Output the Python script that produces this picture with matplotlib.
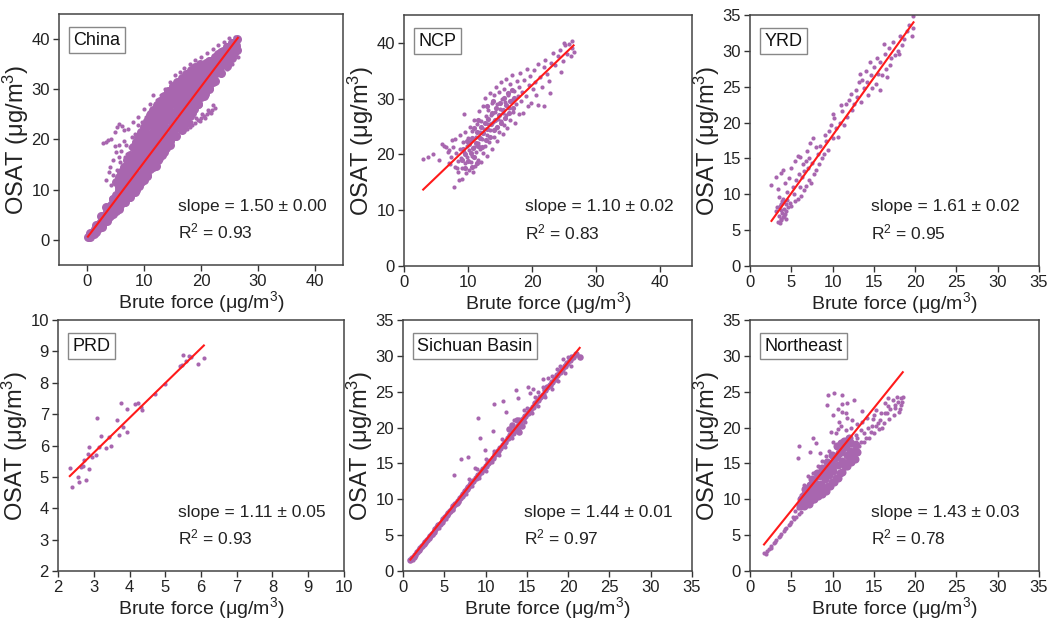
import matplotlib
matplotlib.use("Agg")
import matplotlib.pyplot as plt
import numpy as np

plt.rcParams['font.family'] = ['Liberation Sans', 'DejaVu Sans']
plt.rcParams['mathtext.fontset'] = 'custom'
plt.rcParams['mathtext.rm'] = 'Liberation Sans'
plt.rcParams['mathtext.it'] = 'Liberation Sans'

# ---- data (Brute force, OSAT) ----
china_core = [(0.1, 0.5), (0.4, 0.9), (0.7, 1.2), (1.0, 1.6), (1.3, 2.1), (1.6, 2.4), (1.9, 3.0), (2.2, 3.3),
              (2.5, 3.8), (2.8, 4.4), (1.2, 1.2), (2.0, 2.3), (2.6, 3.0), (3.0, 3.5), (3.1, 5.0), (3.4, 5.6),
              (3.6, 4.3), (3.9, 6.2), (2.4, 4.8), (3.3, 6.6), (4.0, 4.8), (4.2, 7.0), (4.4, 5.9), (4.6, 8.2),
              (4.8, 6.7), (5.0, 9.0), (5.1, 5.8), (5.3, 7.8), (5.5, 10.0), (5.7, 6.9), (5.9, 9.1), (6.0, 11.2),
              (6.2, 8.0), (6.4, 12.3), (6.5, 10.3), (6.7, 7.6), (6.9, 13.0), (7.0, 9.2), (7.1, 11.4), (7.3, 14.2),
              (7.4, 8.6), (7.6, 12.5), (7.8, 15.8), (7.9, 10.1), (8.1, 17.0), (8.2, 13.5), (8.4, 9.6), (8.5, 11.6),
              (8.7, 18.3), (8.8, 14.8), (8.9, 16.3), (9.1, 10.8), (9.2, 19.4), (9.3, 12.7), (9.5, 17.6), (9.6, 15.2),
              (9.8, 20.6), (9.9, 11.9), (10.0, 13.9), (10.1, 21.6), (10.2, 16.5), (10.3, 18.9), (10.5, 12.8),
              (10.6, 22.8), (10.7, 15.0), (10.9, 20.2), (11.0, 17.4), (11.1, 14.1), (11.3, 23.6), (11.4, 19.1),
              (11.5, 21.5), (11.7, 15.6), (11.8, 24.6), (11.9, 17.2), (12.0, 22.8), (12.1, 14.8), (12.3, 20.0),
              (12.4, 25.6), (12.5, 18.4), (12.6, 16.3), (12.8, 23.8), (12.9, 21.5), (13.0, 26.4), (13.1, 17.0),
              (13.3, 19.3), (13.4, 25.0), (13.5, 22.6), (13.7, 27.4), (13.8, 18.4), (13.9, 20.7), (14.1, 24.0),
              (14.2, 28.3), (14.3, 26.1), (14.5, 19.6), (14.6, 22.2), (14.8, 29.0), (14.9, 25.1), (15.0, 21.0),
              (15.1, 27.3), (15.3, 23.6), (15.4, 30.0), (15.6, 20.6), (15.7, 28.5), (15.8, 25.8), (16.0, 22.4),
              (16.1, 31.0), (16.2, 26.9), (16.4, 24.0), (16.5, 29.6), (16.7, 21.8), (16.8, 31.6), (16.9, 27.8),
              (17.1, 25.1), (17.2, 23.2), (17.4, 30.3), (17.5, 32.2), (17.6, 28.6), (17.8, 26.4), (18.0, 24.6),
              (18.2, 31.2), (18.3, 33.0), (18.4, 29.4), (18.6, 27.3), (18.8, 26.0), (18.9, 33.5), (19.0, 30.6),
              (19.2, 28.4), (19.4, 27.0), (19.5, 32.4), (19.7, 34.2), (19.8, 29.6), (20.0, 28.5), (20.2, 31.5),
              (20.3, 34.6), (20.5, 33.0), (20.7, 29.0), (20.9, 35.2), (21.0, 31.0), (21.2, 33.8), (21.4, 30.2),
              (21.6, 35.6), (21.8, 32.5), (22.0, 34.4), (22.2, 31.4), (22.4, 36.0), (22.6, 33.2), (22.8, 35.0),
              (23.0, 37.0), (23.2, 34.1), (23.5, 36.0), (23.8, 37.6), (24.0, 35.0), (24.3, 36.8), (24.6, 38.4),
              (24.9, 36.0), (25.2, 37.6), (25.5, 39.2), (25.8, 37.2), (26.1, 38.6), (26.3, 40.0), (26.4, 37.8),
              (5.0, 11.5), (5.5, 12.5), (6.0, 13.5), (6.5, 14.5), (7.0, 16.0), (7.5, 17.0), (8.0, 18.5),
              (8.5, 19.5), (9.0, 20.5), (9.5, 21.5), (10.0, 22.5), (10.5, 23.6), (11.0, 24.8), (11.6, 25.8),
              (12.2, 26.8), (12.8, 27.6), (13.5, 28.6), (14.2, 29.6), (15.0, 30.6), (15.8, 31.4), (16.6, 32.2),
              (17.4, 33.0), (18.2, 33.8), (19.0, 34.5), (19.8, 35.0)]
# dense part of the China cloud, one column of readings per x
china_fill_x = [0.5, 1.5, 2.5, 3.5, 4.5, 5.5, 6.5, 7.5, 8.5, 9.5, 10.5, 11.5, 12.5,
                13.5, 14.5, 15.5, 16.5, 17.5, 18.5, 19.5, 20.5, 21.5, 22.5, 23.5, 24.5, 25.5]
china_fill_y = [[0.6, 1.4], [1.6, 2.9], [2.6, 3.9, 4.6], [3.7, 5.0, 6.4], [5.1, 6.6, 8.2],
                [6.2, 7.8, 9.4, 10.6], [7.6, 9.2, 10.8, 12.4], [8.6, 10.2, 11.8, 13.4, 15.0],
                [10.0, 11.6, 13.2, 14.8, 16.4, 18.0], [11.6, 13.2, 14.8, 16.4, 18.0, 19.8],
                [13.0, 14.6, 16.2, 17.8, 19.4, 21.0, 22.6], [14.6, 16.2, 17.8, 19.4, 21.0, 22.8, 24.4],
                [16.0, 17.6, 19.2, 20.8, 22.4, 24.2, 26.0], [17.6, 19.2, 20.8, 22.4, 24.0, 25.8, 27.4],
                [19.0, 20.6, 22.2, 23.8, 25.4, 27.2, 28.8], [20.6, 22.2, 23.8, 25.4, 27.0, 28.6, 30.0],
                [22.0, 23.6, 25.2, 26.8, 28.4, 30.0, 31.0], [23.2, 24.8, 26.4, 28.0, 29.6, 31.2, 32.0],
                [25.2, 26.8, 28.4, 30.0, 31.6, 33.0], [27.0, 28.6, 30.2, 31.8, 33.6],
                [28.6, 30.2, 31.8, 33.4, 34.8], [30.0, 31.6, 33.2, 34.8, 35.6],
                [31.6, 33.2, 34.8, 36.4], [33.2, 34.8, 36.4, 37.4], [34.6, 36.2, 37.8, 38.4],
                [36.2, 37.8, 39.2]]
china_pts = [(2.7, 19.3), (3.2, 19.5), (3.7, 19.8), (4.2, 20.0), (4.8, 21.5), (5.2, 22.4), (5.6, 23.0),
             (6.1, 22.6), (6.5, 21.8), (5.0, 17.5), (4.5, 16.0), (3.8, 13.5), (3.3, 12.0), (4.1, 11.0),
             (5.8, 15.5), (6.8, 19.0), (7.2, 22.0), (8.0, 23.5), (9.0, 24.5), (10.0, 26.0), (11.0, 27.0),
             (11.5, 28.8), (12.3, 27.8), (13.0, 28.8), (13.6, 30.0), (14.5, 31.5), (15.5, 32.8), (16.3, 33.5),
             (17.0, 34.3), (18.0, 35.0), (19.0, 35.8), (20.0, 36.5), (21.0, 37.2), (22.2, 38.0), (23.0, 38.8),
             (24.0, 39.5), (25.0, 40.2), (26.0, 40.5), (26.5, 39.0), (26.5, 36.5), (25.5, 35.0), (24.5, 34.0),
             (23.5, 32.8), (22.5, 26.3), (22.0, 25.8), (21.5, 25.5), (21.0, 25.0), (20.5, 24.6), (20.0, 24.3),
             (19.5, 23.8), (19.0, 23.2), (18.5, 22.8), (18.0, 22.5), (17.5, 22.0), (18.2, 23.4), (19.2, 24.2),
             (20.2, 25.0), (21.2, 25.8), (22.2, 26.8), (20.8, 24.2), (19.8, 23.6), (21.8, 25.2),
             (4.0, 14.5), (4.6, 13.0), (5.3, 14.0), (5.6, 16.5), (6.2, 15.0), (6.0, 17.8), (6.6, 16.5),
             (7.0, 17.2), (7.5, 18.5), (7.8, 20.5), (8.4, 21.0), (8.2, 19.5), (6.5, 19.6), (5.5, 19.0),
             (4.8, 18.8), (9.0, 22.8), (9.6, 23.5), (10.4, 24.5), (10.8, 25.5), (12.0, 27.2), (12.8, 28.0)]

ncp_core = [(9.0, 19.0), (9.2, 21.0), (9.5, 20.0), (9.8, 22.4), (10.0, 18.8), (10.2, 21.8), (10.4, 20.2),
            (10.6, 23.0), (10.8, 21.2), (11.0, 19.6), (11.2, 22.0), (11.4, 24.0), (11.6, 21.6), (11.8, 23.0),
            (12.0, 25.0), (12.2, 21.4), (12.4, 23.8), (12.6, 25.6), (12.8, 22.6), (13.0, 24.6), (13.2, 26.4),
            (13.4, 23.2), (13.6, 25.4), (13.8, 27.4), (14.0, 24.4), (14.2, 26.2), (14.4, 28.4), (14.6, 25.0),
            (14.8, 27.0), (15.0, 29.2), (15.2, 25.6), (15.4, 28.0), (15.6, 30.2), (15.8, 26.6), (16.0, 28.8),
            (16.2, 31.0), (16.4, 27.4), (16.6, 29.6), (16.8, 31.6), (17.0, 28.4), (17.2, 30.2), (10.9, 24.8),
            (11.5, 26.2), (12.9, 28.6), (13.9, 29.6), (9.6, 17.6), (10.6, 17.8), (11.4, 18.4)]
ncp_pts = [(3.0, 19.2), (3.8, 19.6), (4.6, 20.0), (5.5, 19.0), (6.0, 21.8), (6.5, 21.3), (7.0, 20.8), (7.5, 22.6),
           (7.2, 18.2), (7.8, 14.2), (8.3, 17.5), (8.6, 15.5), (6.2, 21.6), (6.8, 20.5), (7.0, 18.5), (7.3, 19.6),
           (7.6, 21.4), (7.9, 17.8), (8.0, 22.8), (8.2, 20.2), (8.4, 18.8), (8.5, 16.8), (8.7, 21.0), (8.8, 23.4),
           (8.9, 19.4), (9.0, 15.6), (9.1, 17.6), (9.2, 22.2), (9.3, 27.3), (9.4, 20.4), (9.5, 18.4), (9.6, 24.0),
           (9.7, 16.6), (9.8, 21.6), (9.9, 19.6), (10.0, 23.0), (10.1, 17.2), (10.2, 20.8), (10.3, 25.0),
           (10.4, 18.6), (10.5, 22.4), (10.6, 19.8), (10.7, 24.2), (10.8, 16.9), (10.9, 21.4), (11.0, 26.2),
           (11.1, 18.0), (11.2, 23.2), (11.3, 20.4), (11.4, 25.4), (11.5, 22.0), (11.6, 19.0), (11.7, 27.8),
           (11.8, 24.0), (11.9, 21.0), (12.0, 18.6), (12.1, 26.0), (12.2, 22.8), (12.3, 20.2), (12.4, 28.6),
           (12.5, 24.6), (12.6, 21.6), (12.7, 30.2), (12.8, 26.8), (12.9, 23.4), (13.0, 19.8), (13.1, 25.4),
           (13.2, 28.0), (13.3, 22.2), (13.4, 31.0), (13.5, 24.4), (13.6, 27.0), (13.7, 21.0), (13.8, 29.2),
           (13.9, 25.8), (14.0, 23.2), (14.1, 30.6), (14.2, 27.6), (14.3, 24.8), (14.4, 32.0), (14.5, 22.4),
           (14.6, 29.0), (14.7, 26.4), (14.8, 31.2), (14.9, 24.0), (15.0, 28.2), (15.1, 33.0), (15.2, 26.0),
           (15.3, 30.0), (15.4, 23.6), (15.5, 27.4), (15.6, 31.8), (15.7, 25.2), (15.8, 29.4), (15.9, 33.6),
           (16.0, 27.0), (16.1, 24.8), (16.2, 30.6), (16.4, 28.4), (16.5, 32.6), (16.6, 26.2), (16.8, 29.8),
           (16.9, 34.2), (17.0, 27.6), (17.2, 31.4), (17.3, 25.6), (17.5, 29.0), (17.6, 33.2), (17.8, 30.4),
           (17.9, 27.2), (18.0, 32.0), (18.2, 34.6), (18.3, 29.6), (18.5, 31.2), (18.6, 27.4), (18.8, 33.4),
           (19.0, 30.4), (19.2, 35.4), (19.3, 28.6), (19.5, 32.4), (19.7, 34.0), (19.9, 29.2), (20.1, 31.8),
           (20.3, 35.2), (20.5, 33.0), (20.7, 30.6), (20.9, 36.2), (21.0, 28.8), (21.3, 33.8), (21.6, 32.0),
           (21.8, 35.6), (22.1, 37.0), (22.4, 34.4), (22.7, 33.2), (23.0, 36.4), (23.3, 38.2), (23.6, 36.0),
           (24.0, 37.6), (24.3, 38.8), (24.5, 34.8), (24.8, 36.8), (25.2, 39.6), (25.5, 38.0), (25.8, 39.8),
           (26.1, 37.6), (26.3, 40.4), (26.5, 38.4), (26.2, 39.0), (25.0, 40.0), (22.8, 31.0), (21.9, 28.6)]

yrd_pts = [(3.4, 6.2), (3.6, 6.0), (3.8, 6.4), (4.0, 6.8), (3.5, 7.0), (3.9, 7.4), (4.2, 7.2), (3.7, 7.8),
           (4.1, 8.0), (4.4, 7.6), (3.6, 8.4), (4.3, 8.6), (3.9, 9.0), (4.6, 8.2), (4.0, 9.4), (4.5, 9.2),
           (3.3, 8.2), (3.5, 9.6), (3.2, 7.6), (4.8, 8.8), (3.7, 6.6), (4.1, 7.0), (3.8, 8.7), (4.3, 6.5),
           (2.6, 11.3), (3.1, 12.4), (3.4, 10.8), (3.7, 12.9), (4.2, 11.6), (4.5, 10.3), (4.0, 13.4), (4.7, 12.2),
           (5.0, 13.6), (5.2, 11.0), (5.5, 14.6), (5.8, 15.4), (6.1, 15.2), (6.4, 14.2), (5.9, 12.8), (6.6, 13.2),
           (6.9, 16.0), (7.3, 17.2), (7.6, 17.8), (7.2, 15.0), (6.8, 14.6), (8.0, 16.6), (5.0, 8.4), (5.4, 9.0),
           (5.8, 9.4), (6.2, 9.8), (6.5, 10.6), (6.8, 11.2), (7.1, 12.0), (7.4, 11.6), (7.7, 12.8), (8.0, 13.4),
           (8.4, 14.2), (8.7, 15.0), (9.0, 15.6), (6.0, 11.0), (7.0, 13.6), (8.2, 15.6), (9.2, 17.4), (9.4, 16.2),
           (9.6, 18.8), (9.8, 19.6), (10.0, 17.8), (10.2, 20.6), (10.4, 19.2), (10.6, 18.0), (10.9, 20.0),
           (11.2, 21.6), (11.4, 19.6), (11.6, 22.6), (11.8, 20.8), (12.0, 23.2), (12.3, 21.8), (12.6, 22.6),
           (12.8, 24.6), (13.0, 23.6), (13.2, 25.6), (13.4, 22.8), (13.6, 26.0), (13.8, 24.8), (14.0, 27.2),
           (14.2, 25.6), (14.3, 23.8), (14.6, 26.6), (14.8, 24.8), (15.0, 27.8), (15.2, 25.4), (15.5, 26.8),
           (15.8, 28.4), (16.0, 26.6), (16.3, 29.6), (16.5, 27.4), (16.8, 30.4), (17.0, 28.0), (17.3, 31.2),
           (17.6, 29.4), (17.9, 30.0), (18.2, 32.0), (18.6, 31.6), (19.0, 32.8), (19.3, 33.6), (19.6, 32.0),
           (19.7, 34.8), (19.8, 33.2), (16.2, 31.0), (18.0, 29.6), (16.6, 26.4), (15.8, 24.6),
           (5.3, 10.0), (5.6, 12.0), (6.3, 12.4), (7.5, 14.4), (8.5, 16.8), (9.1, 18.2), (10.1, 21.2),
           (11.0, 22.4), (12.2, 24.0), (13.3, 26.8), (14.5, 28.4), (15.4, 29.0), (17.1, 29.0), (18.4, 30.8)]

prd_pts = [(2.33, 5.28), (2.40, 4.68), (2.57, 5.0), (2.60, 4.85), (2.63, 5.3), (2.77, 4.9), (2.74, 5.55),
           (2.86, 5.25), (2.83, 5.72), (2.86, 5.95), (2.95, 5.65), (3.10, 6.88), (3.19, 6.3), (3.16, 5.95),
           (3.33, 5.92), (3.44, 6.28), (3.49, 6.0), (3.65, 6.8), (3.70, 6.33), (3.76, 7.36), (3.81, 6.6),
           (3.93, 7.15), (3.93, 6.42), (4.16, 7.32), (4.25, 7.35), (4.32, 7.22), (4.36, 7.13), (4.72, 7.64),
           (5.0, 7.95), (5.46, 8.58), (5.50, 8.9), (5.66, 8.85), (5.71, 8.82), (5.92, 8.6), (6.08, 8.78),
           (5.40, 8.55), (5.58, 8.7), (2.69, 5.35), (3.05, 5.7)]

sichuan_core = [(0.9, 1.5), (1.1, 1.8), (1.3, 2.0), (1.5, 2.3), (1.7, 2.6), (1.9, 2.9), (2.1, 3.2), (2.3, 3.5),
                (2.5, 3.8), (2.7, 4.1), (2.9, 4.3), (3.1, 4.6), (3.3, 4.9), (3.5, 5.2), (3.7, 5.5), (3.9, 5.8),
                (4.1, 6.1), (4.3, 6.4), (4.5, 6.6), (4.7, 6.9), (4.9, 7.2), (5.1, 7.5), (5.3, 7.8), (5.5, 8.1),
                (5.7, 8.4), (5.9, 8.7), (6.1, 9.0), (6.3, 9.3), (6.5, 9.5), (6.7, 9.8), (6.9, 10.2), (7.1, 10.5),
                (7.3, 10.8), (7.5, 11.1), (7.7, 11.4), (7.9, 11.7), (8.1, 12.0), (8.3, 12.3), (8.5, 12.6),
                (8.8, 13.0), (9.1, 13.4), (9.4, 13.8), (9.7, 14.2), (10.0, 14.6), (10.3, 15.0), (10.6, 15.4),
                (10.9, 15.8), (11.2, 16.3), (11.5, 16.8), (11.8, 17.2), (12.1, 17.6), (12.4, 18.0), (12.7, 18.5),
                (13.0, 18.9), (13.3, 19.3), (13.6, 19.7), (13.9, 20.2), (14.2, 20.6), (14.5, 21.2), (14.8, 21.6),
                (15.1, 22.0), (15.4, 22.5), (15.7, 22.9), (16.0, 23.4), (16.3, 23.8), (16.6, 24.2), (16.9, 24.6),
                (17.2, 25.2), (17.5, 25.6), (17.8, 26.0), (18.1, 26.4), (18.4, 26.8), (18.7, 27.4), (19.0, 27.8),
                (19.3, 28.2), (19.6, 28.6), (19.9, 29.0), (20.2, 29.4), (20.6, 29.8), (21.0, 30.2), (21.4, 29.8),
                (13.2, 20.4), (13.8, 21.0), (14.4, 20.2), (12.9, 19.8), (14.0, 19.4)]
sichuan_pts = [(1.2, 1.5), (2.0, 2.8), (2.8, 3.9), (3.6, 5.0), (4.4, 6.0), (5.2, 7.2), (6.0, 8.5), (6.8, 9.6),
               (7.6, 10.8), (8.4, 11.9), (9.2, 13.0), (10.0, 14.0), (10.8, 15.2), (11.6, 16.2), (12.4, 17.3),
               (13.2, 18.5), (14.0, 19.6), (14.8, 20.8), (15.6, 22.0), (16.4, 23.0), (17.2, 24.2), (18.0, 25.4),
               (18.8, 26.5), (19.6, 27.6), (20.4, 28.6), (8.0, 12.8), (9.0, 14.2), (10.0, 15.6), (11.0, 16.8),
               (12.0, 18.4), (13.0, 19.8), (14.0, 21.2), (15.0, 22.8), (16.0, 24.2), (17.0, 25.6), (18.0, 27.2),
               (19.0, 28.6), (20.0, 29.8), (17.6, 26.9), (18.6, 28.2), (19.4, 29.5), (20.4, 30.0), (15.8, 25.4),
               (14.6, 22.4), (13.5, 21.0), (6.2, 13.4), (7.0, 15.6), (7.9, 15.9), (9.1, 21.4), (9.3, 18.5),
               (11.0, 23.3), (12.1, 23.7), (10.9, 19.5), (13.7, 25.2), (15.1, 25.7), (15.4, 24.8), (13.9, 24.1),
               (12.5, 22.2), (9.9, 16.9), (8.7, 14.3), (16.3, 25.0), (17.0, 26.8)]

ne_core = [(6.3, 9.4), (6.5, 10.6), (6.7, 11.4), (6.9, 9.8), (7.1, 10.8), (7.3, 12.0), (7.4, 9.9), (7.6, 11.2),
           (7.8, 12.6), (7.9, 10.4), (8.1, 11.6), (8.3, 13.2), (8.4, 10.8), (8.6, 12.2), (8.8, 13.8), (8.9, 11.4),
           (9.1, 12.8), (9.3, 14.4), (9.4, 11.8), (9.6, 13.4), (9.8, 15.0), (9.9, 12.4), (10.1, 14.0), (10.3, 15.8),
           (10.4, 13.0), (10.6, 14.8), (10.8, 16.4), (10.9, 13.6), (11.1, 15.4), (11.3, 17.2), (11.5, 14.6),
           (11.7, 16.2), (11.9, 15.2), (12.1, 16.8), (12.3, 15.8), (12.6, 16.4), (7.0, 11.6), (8.0, 12.2),
           (9.0, 13.6), (10.0, 14.8), (11.0, 16.6), (10.5, 17.4), (11.4, 18.2), (12.0, 18.6),
           (6.0, 9.0), (6.6, 9.0), (7.2, 9.4), (7.7, 10.0), (8.2, 10.4), (8.7, 10.8), (9.2, 11.2), (9.7, 11.8),
           (10.2, 12.4), (10.7, 13.0), (11.2, 13.8), (11.7, 14.6), (12.2, 15.2), (12.7, 15.6), (13.0, 16.6),
           (12.8, 17.6), (6.2, 10.0), (6.8, 10.4), (7.5, 12.8), (8.1, 13.6), (8.7, 14.4), (9.3, 15.2),
           (9.9, 16.2), (10.5, 16.0), (11.0, 17.8), (11.6, 17.4), (12.2, 17.8)]
ne_pts = [(1.7, 2.5), (2.0, 2.8), (2.3, 3.1), (2.6, 3.5), (2.9, 3.9), (3.2, 4.3), (3.5, 4.7), (3.8, 5.2),
          (4.1, 5.6), (4.4, 6.0), (4.7, 6.4), (5.0, 6.8), (5.3, 7.2), (5.6, 7.6), (5.9, 8.0), (6.2, 8.3),
          (1.9, 2.4), (2.5, 3.2), (3.0, 4.1), (3.6, 4.9), (4.2, 5.8), (4.9, 6.6),
          (5.2, 7.6), (5.5, 8.4), (5.8, 8.8), (6.0, 9.6), (6.2, 10.6), (6.5, 12.0), (7.0, 13.2), (7.6, 13.6),
          (8.2, 14.6), (8.7, 15.4), (9.2, 16.0), (9.6, 16.8), (10.0, 18.0), (10.4, 19.2), (10.7, 19.8),
          (11.0, 20.2), (11.6, 19.6), (12.2, 20.0), (12.8, 19.0), (13.4, 18.0), (14.0, 18.6), (14.6, 19.4),
          (15.2, 20.2), (15.8, 21.0), (16.4, 22.0), (17.0, 22.6), (17.6, 22.8), (18.2, 22.6), (16.0, 20.0),
          (13.6, 20.8), (12.4, 21.0), (5.8, 15.7), (5.9, 17.4), (7.6, 18.5), (7.95, 17.8), (8.5, 16.4),
          (7.3, 16.6), (9.35, 23.2), (9.4, 24.5), (10.2, 24.8), (11.2, 24.5), (11.8, 23.4), (12.6, 23.9),
          (11.2, 22.2), (10.8, 20.8), (11.8, 21.3), (10.1, 21.7), (11.2, 23.3), (18.3, 24.1), (18.3, 23.2),
          (17.9, 23.5), (16.7, 23.0), (15.9, 22.1), (15.5, 20.7), (14.9, 21.2), (14.3, 20.0), (13.8, 19.2),
          (13.0, 18.5), (12.4, 17.6), (13.0, 20.5), (13.6, 22.3), (15.0, 21.8), (17.3, 23.9), (18.5, 24.2),
          (16.7, 24.1), (10.6, 22.6), (11.6, 22.0), (9.8, 19.4),
          (12.0, 16.0), (12.6, 17.0), (13.2, 17.4), (13.8, 18.0), (14.4, 18.6), (15.0, 19.2), (15.6, 19.8),
          (16.2, 20.6), (16.8, 21.2), (17.4, 21.8), (18.0, 22.2), (18.4, 23.6), (17.8, 24.2), (16.4, 23.4),
          (15.2, 22.4), (14.2, 21.4), (13.4, 19.6), (14.8, 20.2), (16.6, 22.0), (17.6, 23.2), (12.8, 18.0)]

regions = ['China', 'NCP', 'YRD', 'PRD', 'Sichuan Basin', 'Northeast']
slopes = ['1.50 ± 0.00', '1.10 ± 0.02', '1.61 ± 0.02', '1.11 ± 0.05', '1.44 ± 0.01', '1.43 ± 0.03']
r2 = ['0.93', '0.83', '0.95', '0.93', '0.97', '0.78']
fit_slope = [1.50, 1.10, 1.61, 1.11, 1.44, 1.43]
fit_icpt = [0.5, 10.4, 2.1, 2.44, 0.3, 1.27]

china_fill = [(x, y) for x, col in zip(china_fill_x, china_fill_y) for y in col]
pts_list = [china_pts, ncp_pts, yrd_pts, prd_pts, sichuan_pts, ne_pts]
core_list = [china_core + china_fill, ncp_core, [], [], sichuan_core, ne_core]

PURPLE = '#A866AF'
rects = [[0.0561, 0.5719, 0.2702, 0.4055], [0.3844, 0.5703, 0.2740, 0.4055],
         [0.7136, 0.5703, 0.2750, 0.4055], [0.0552, 0.0775, 0.2721, 0.4055],
         [0.3834, 0.0775, 0.2750, 0.4055], [0.7136, 0.0775, 0.2750, 0.4055]]
limits = [(-5, 45), (0, 45), (0, 35), (2, 10), (0, 35), (0, 35)]
ticks = [np.arange(0, 41, 10), np.arange(0, 41, 10), np.arange(0, 36, 5),
         np.arange(2, 11, 1), np.arange(0, 36, 5), np.arange(0, 36, 5)]
core_size = [42, 14, 0, 0, 22, 34]

fig = plt.figure(figsize=(10.51, 6.19), dpi=100)

for k in range(6):
    ax = fig.add_axes(rects[k])
    pts = np.array(pts_list[k])
    allx = pts[:, 0]
    if core_list[k]:
        core = np.array(core_list[k])
        ax.scatter(core[:, 0], core[:, 1], s=core_size[k], color=PURPLE,
                   linewidths=0, zorder=2)
        allx = np.concatenate([allx, core[:, 0]])
    ax.scatter(pts[:, 0], pts[:, 1], s=9, color=PURPLE, linewidths=0, zorder=2)
    xx = np.array([allx.min(), allx.max()])
    ax.plot(xx, fit_slope[k] * xx + fit_icpt[k], color='#FF1A1A', lw=1.5, zorder=3)

    ax.set_xlim(*limits[k])
    ax.set_ylim(*limits[k])
    ax.set_xticks(ticks[k])
    ax.set_yticks(ticks[k])
    ax.tick_params(direction='out', length=4, width=1, colors='#333333',
                   labelsize=12, labelcolor='#222222', pad=2.5)
    for sp in ax.spines.values():
        sp.set_color('#444444')
        sp.set_linewidth(1.1)
    ax.set_xlabel('Brute force (μg/m$^3$)', fontsize=14, color='#222222', labelpad=0)
    ax.set_ylabel('OSAT (μg/m$^3$)', fontsize=17, color='#222222', labelpad=0)

    ax.text(0.05, 0.895, regions[k], transform=ax.transAxes, fontsize=13,
            va='center', ha='left', color='#111111',
            bbox=dict(boxstyle='square,pad=0.25', facecolor='white',
                      edgecolor='#888888', linewidth=1))
    ax.text(0.42, 0.235, 'slope = ' + slopes[k], transform=ax.transAxes,
            fontsize=12.5, va='center', ha='left', color='#222222')
    ax.text(0.42, 0.135, 'R$^2$ = ' + r2[k], transform=ax.transAxes,
            fontsize=12.5, va='center', ha='left', color='#222222')

fig.savefig('out.png', dpi=100)
